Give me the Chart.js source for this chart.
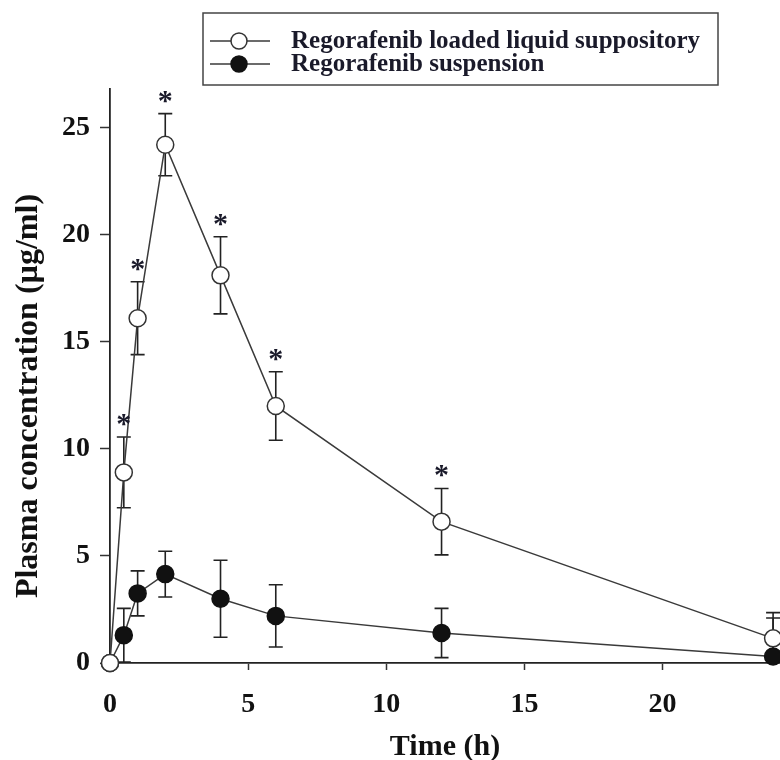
<!DOCTYPE html>
<html lang="en">
<head>
<meta charset="UTF-8">
<title>Regorafenib plasma concentration</title>
<script src="https://cdn.jsdelivr.net/npm/chart.js@4"></script>
<style>
  body { margin: 0; background: #fff; overflow: hidden; }
  #wrap { width: 780px; height: 760px; }
</style>
</head>
<body>
<div id="wrap"><canvas id="myChart" width="780" height="760"></canvas></div>
<script>
// sampling times (h)
var timePoints = [0, 0.5, 1, 2, 4, 6, 12, 24];

// Regorafenib loaded liquid suppository, mean and SD (µg/ml)
var suppMean = [0, 8.9, 16.1, 24.2, 18.1, 12.0, 6.6, 1.15];
var suppSd   = [0, 1.65, 1.7, 1.45, 1.8, 1.6, 1.55, 1.2];

// Regorafenib suspension, mean and SD (µg/ml)
var suspMean = [0, 1.3, 3.25, 4.15, 3.0, 2.2, 1.4, 0.3];
var suspSd   = [0, 1.25, 1.05, 1.07, 1.8, 1.45, 1.15, 1.8];

// significant difference marks (*) over the suppository points
var suppSig = [false, true, true, true, true, true, true, false];

var seriesLabels = ['Regorafenib loaded liquid suppository', 'Regorafenib suspension'];
var xTicks = [0, 5, 10, 15, 20];
var yTicks = [0, 5, 10, 15, 20, 25];
var yTitle = 'Plasma concentration (µg/ml)';

var serif = "'Liberation Serif', 'Times New Roman', serif";
var ink = '#111';
var lineCol = '#3a3a3a';

function toPoints(means) {
    return timePoints.map(function (t, i) { return { x: t, y: means[i] }; });
}

// mean ± SD whiskers, drawn under the markers; asterisks on top
var errorBars = {
    id: 'errorBars',
    beforeDatasetsDraw: function (chart) {
        var ctx = chart.ctx, xs = chart.scales.x, ys = chart.scales.y;
        ctx.save();
        ctx.strokeStyle = '#222';
        ctx.lineWidth = 1.6;
        chart.data.datasets.forEach(function (ds) {
            ds.data.forEach(function (p, i) {
                var sd = ds.sd[i];
                if (!sd) return;
                var px = xs.getPixelForValue(p.x);
                var top = ys.getPixelForValue(p.y + sd);
                var bot = ys.getPixelForValue(Math.max(p.y - sd, 0));
                ctx.beginPath();
                ctx.moveTo(px, top); ctx.lineTo(px, bot);
                ctx.moveTo(px - 7, top); ctx.lineTo(px + 7, top);
                if (p.y - sd > 0) { ctx.moveTo(px - 7, bot); ctx.lineTo(px + 7, bot); }
                ctx.stroke();
            });
        });
        ctx.restore();
    },
    afterDatasetsDraw: function (chart) {
        var ctx = chart.ctx, xs = chart.scales.x, ys = chart.scales.y;
        ctx.save();
        ctx.fillStyle = '#1a1a2a';
        ctx.font = 'bold 30px ' + serif;
        ctx.textAlign = 'center';
        ctx.textBaseline = 'alphabetic';
        timePoints.forEach(function (t, i) {
            if (!suppSig[i]) return;
            var px = xs.getPixelForValue(t);
            var top = ys.getPixelForValue(suppMean[i] + suppSd[i]);
            ctx.fillText('*', px, top - 4);
        });
        ctx.restore();
    }
};

// boxed legend at the top and the rotated y title
var decorations = {
    id: 'decorations',
    afterDraw: function (chart) {
        var ctx = chart.ctx;
        ctx.save();
        ctx.strokeStyle = '#444';
        ctx.lineWidth = 1.5;
        ctx.strokeRect(203, 13, 515, 72);
        var rows = [41, 64];
        chart.data.datasets.forEach(function (ds, i) {
            var y = rows[i];
            ctx.strokeStyle = lineCol;
            ctx.lineWidth = 1.5;
            ctx.beginPath();
            ctx.moveTo(210, y); ctx.lineTo(270, y);
            ctx.stroke();
            ctx.beginPath();
            ctx.arc(239, y, 8, 0, Math.PI * 2);
            ctx.fillStyle = ds.pointBackgroundColor;
            ctx.fill();
            ctx.strokeStyle = ds.pointBorderColor;
            ctx.stroke();
            ctx.fillStyle = '#1a1a2a';
            ctx.font = 'bold 25px ' + serif;
            ctx.textBaseline = 'middle';
            ctx.fillText(ds.label, 291, y + 1);
        });

        ctx.translate(29, 396);
        ctx.rotate(-Math.PI / 2);
        ctx.fillStyle = ink;
        ctx.font = 'bold 32px ' + serif;
        ctx.textAlign = 'center';
        ctx.textBaseline = 'middle';
        ctx.fillText(yTitle, 0, 0);
        ctx.restore();
    }
};

var ctx = document.getElementById('myChart').getContext('2d');
var myChart = new Chart(ctx, {
    type: 'line',
    data: {
        datasets: [{
            label: seriesLabels[0],
            data: toPoints(suppMean),
            sd: suppSd,
            borderColor: lineCol,
            borderWidth: 1.5,
            pointRadius: 8.5,
            pointBackgroundColor: '#fff',
            pointBorderColor: '#333',
            pointBorderWidth: 1.5,
            fill: false,
            tension: 0,
            clip: false
        }, {
            label: seriesLabels[1],
            data: toPoints(suspMean),
            sd: suspSd,
            borderColor: lineCol,
            borderWidth: 1.5,
            pointRadius: 8.5,
            pointBackgroundColor: '#111',
            pointBorderColor: '#111',
            pointBorderWidth: 1.5,
            fill: false,
            tension: 0,
            clip: false
        }]
    },
    options: {
        responsive: false,
        animation: false,
        devicePixelRatio: 1,
        layout: { autoPadding: false, padding: { top: 89, right: 0, left: 0, bottom: 0 } },
        plugins: {
            legend: { display: false },
            tooltip: { enabled: false }
        },
        scales: {
            x: {
                type: 'linear',
                position: 'bottom',
                min: 0,
                max: 24.25,
                afterBuildTicks: function (scale) {
                    scale.ticks = xTicks.map(function (v) { return { value: v }; });
                },
                afterFit: function (scale) { scale.height = 97; },
                grid: { drawOnChartArea: false, drawTicks: true, tickLength: 7, color: '#333', tickWidth: 1.5 },
                border: { display: true, color: '#222', width: 1.8 },
                ticks: { color: ink, padding: 18, maxRotation: 0, font: { family: serif, size: 28, weight: 'bold' } },
                title: {
                    display: true,
                    text: 'Time (h)',
                    color: ink,
                    padding: { top: 0, bottom: 0 },
                    font: { family: serif, size: 30, weight: 'bold', lineHeight: 0.85 }
                }
            },
            y: {
                min: 0,
                max: 26.8,
                afterBuildTicks: function (scale) {
                    scale.ticks = yTicks.map(function (v) { return { value: v }; });
                },
                afterFit: function (scale) { scale.width = 110; },
                grid: { drawOnChartArea: false, drawTicks: true, tickLength: 10, color: '#333', tickWidth: 1.5 },
                border: { display: true, color: '#222', width: 1.8 },
                ticks: { color: ink, padding: 10, font: { family: serif, size: 28, weight: 'bold' } }
            }
        }
    },
    plugins: [errorBars, decorations]
});
</script>
</body>
</html>
